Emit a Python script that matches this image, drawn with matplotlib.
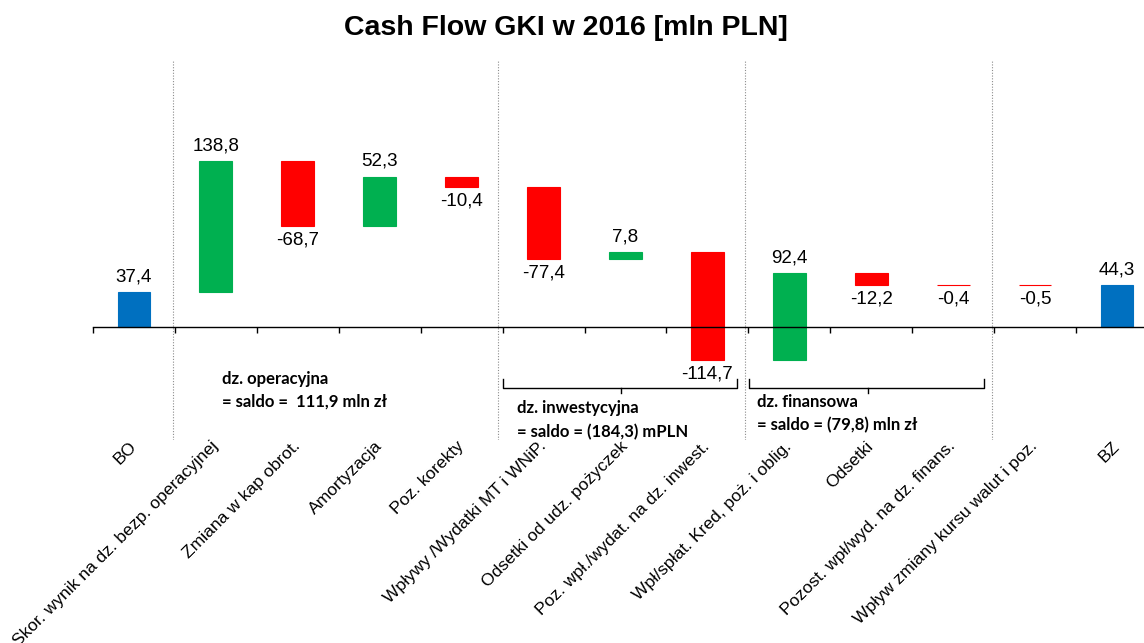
import numpy as np
import matplotlib
matplotlib.use("Agg")
import matplotlib.pyplot as plt

plt.rcParams['font.family'] = ['Liberation Sans', 'DejaVu Sans']

categories = ['BO', 'Skor. wynik na dz. bezp. operacyjnej', 'Zmiana w kap obrot.',
              'Amortyzacja', 'Poz. korekty', 'Wpływy /Wydatki MT i WNiP.',
              'Odsetki od udz. pożyczek', 'Poz. wpł./wydat. na dz. inwest.',
              'Wpł/spłat. Kred, poż. i oblig.', 'Odsetki',
              'Pozost. wpł/wyd. na dz. finans.', 'Wpływ zmiany kursu walut i poz.', 'BZ']
start_value = 37.4
deltas = [138.8, -68.7, 52.3, -10.4, -77.4, 7.8, -114.7, 92.4, -12.2, -0.4, -0.5]
end_value = 44.3

section_texts = ['dz. operacyjna\n= saldo =  111,9 mln zł',
                 'dz. inwestycyjna\n= saldo = (184,3) mPLN',
                 'dz. finansowa\n= saldo = (79,8) mln zł']

BLUE, GREEN, RED = '#0070C0', '#00B050', '#FF0000'

def fmt(v):
    return f"{v:.1f}".replace('.', ',')

# waterfall geometry
d = np.array(deltas)
cum = start_value + np.cumsum(d)
prev = np.concatenate([[start_value], cum[:-1]])
bottoms = np.concatenate([[0], np.minimum(prev, cum), [0]])
heights = np.concatenate([[start_value], np.abs(d), [end_value]])
colors = [BLUE] + [GREEN if v > 0 else RED for v in d] + [BLUE]
values = [start_value] + deltas + [end_value]

fig = plt.figure(figsize=(11.44, 6.43), dpi=100)
ax = fig.add_axes([93 / 1144, 1 - 440 / 643, 1 - 93 / 1144, 380 / 643])
x = np.arange(len(categories))
ax.bar(x, heights, bottom=bottoms, width=0.40, color=colors, edgecolor=colors, linewidth=0.8)

for i, v in enumerate(values):
    if v >= 0:
        ax.annotate(fmt(v), (x[i], bottoms[i] + heights[i]), xytext=(0, 5),
                    textcoords='offset points', ha='center', va='bottom', fontsize=13.5)
    else:
        ax.annotate(fmt(v), (x[i], bottoms[i]), xytext=(0, -4),
                    textcoords='offset points', ha='center', va='top', fontsize=13.5)

# axis at zero with boundary ticks
for s in ['top', 'right', 'left']:
    ax.spines[s].set_visible(False)
ax.spines['bottom'].set_position(('data', 0))
ax.spines['bottom'].set_linewidth(1.0)
ax.set_yticks([])
ax.set_xticks(x)
ax.set_xticklabels(categories, fontsize=12.6)
ax.set_xticks(np.arange(-0.5, 12.4, 1), minor=True)
ax.tick_params(axis='x', which='major', length=0, pad=84)
ax.tick_params(axis='x', which='minor', length=4, width=1, direction='out')
plt.setp(ax.get_xticklabels(), rotation=45, ha='right', va='center', rotation_mode='anchor')

# section separators
for xs in [0.48, 4.44, 7.46, 10.48]:
    ax.axvline(xs, color='#8c8c8c', lw=0.8, ls=(0, (1, 1.5)))

# brackets
for x0, x1, xm in [(4.51, 7.36, 5.95), (7.51, 10.38, 8.96)]:
    ax.plot([x0, x0, x1, x1], [-55, -65, -65, -55], color='black', lw=1.0)
    ax.plot([xm, xm], [-65, -70], color='black', lw=1.0)

for (tx, ty), txt in zip([(1.075, -67), (4.68, -99), (7.6, -92)], section_texts):
    ax.text(tx, ty, txt, fontsize=12, fontweight='bold', family=['Lato', 'DejaVu Sans'],
            ha='left', va='center', linespacing=1.55)

ax.set_xlim(-0.5, 12.33)
ax.set_ylim(-120, 284)

fig.text(0.495, 1 - 28 / 643, 'Cash Flow GKI w 2016 [mln PLN]', ha='center', va='center',
         fontsize=20.5, fontweight='bold')

fig.savefig('out.png', dpi=100)
